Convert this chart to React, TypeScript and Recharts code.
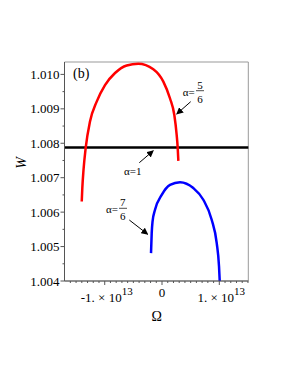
import React from 'react'
import { LineChart, Line, XAxis, YAxis, ReferenceArea } from 'recharts'

// Ω is kept in units of 1e13
const xDomain = [-1.702, 1.506]
const yDomain = [1.004, 1.01036]

const redOmega = [-1.401, -1.391, -1.37, -1.332, -1.257, -1.14, -0.995, -0.82, -0.616, -0.414, -0.152, 0.023, 0.14, 0.215, 0.256, 0.274, 0.285]
const redW = [1.00631, 1.0067, 1.00723, 1.00787, 1.00863, 1.00921, 1.00969, 1.01004, 1.01026, 1.01031, 1.01015, 1.00979, 1.0093, 1.00882, 1.00824, 1.00786, 1.00749]

const blueOmega = [-0.192, -0.18, -0.166, -0.122, -0.005, 0.14, 0.314, 0.546, 0.721, 0.867, 0.955, 0.995, 1.007]
const blueW = [1.00481, 1.00539, 1.00572, 1.00607, 1.0065, 1.00679, 1.00687, 1.0067, 1.00636, 1.00578, 1.0051, 1.00442, 1.004]

const blackOmega = [-1.702, 1.506]
const blackW = [1.00788, 1.00788]

const xTicks = [-1.6, -1.5, -1.4, -1.3, -1.2, -1.1, -1, -0.9, -0.8, -0.7, -0.6, -0.5, -0.4, -0.3, -0.2, -0.1, 0,
  0.1, 0.2, 0.3, 0.4, 0.5, 0.6, 0.7, 0.8, 0.9, 1, 1.1, 1.2, 1.3, 1.4, 1.5]
const yTicks = [1.004, 1.0045, 1.005, 1.0055, 1.006, 1.0065, 1.007, 1.0075, 1.008, 1.0085, 1.009, 1.0095, 1.01]

const zip = (xs: number[], ys: number[]) => xs.map((omega, i) => ({ omega, w: ys[i] }))
const red = zip(redOmega, redW)
const blue = zip(blueOmega, blueW)
const black = zip(blackOmega, blackW)

const serif = 'Liberation Serif, DejaVu Serif, serif'
const axisColor = '#555'
const txt = { fontFamily: serif }

function XTick(props: any) {
  const { x, y, payload } = props
  const v = payload.value as number
  const major = Math.abs(v - Math.round(v)) < 1e-6
  return (
    <g>
      <line x1={x} x2={x} y1={y} y2={y + (major ? 4 : 2)} stroke={axisColor} />
      {major && v === 0 && (
        <text x={x} y={y + 16} textAnchor="middle" style={txt} fontSize={13} fill="#000">0</text>
      )}
      {major && v !== 0 && (
        <text x={x + 2} y={y + 21} textAnchor="middle" style={txt} fontSize={13} fill="#000">
          {v < 0 ? '-1. × 10' : '1. × 10'}
          <tspan dy={-7} fontSize={11}>13</tspan>
        </text>
      )}
    </g>
  )
}

function YTick(props: any) {
  const { x, y, payload } = props
  const v = payload.value as number
  const major = Math.abs(v * 1000 - Math.round(v * 1000)) < 1e-6
  return (
    <g>
      <line x1={x} x2={x - (major ? 4 : 2)} y1={y} y2={y} stroke={axisColor} />
      {major && (
        <text x={x - 5} y={y} dy="0.35em" textAnchor="end" style={txt} fontSize={13} fill="#000">
          {v.toFixed(3)}
        </text>
      )}
    </g>
  )
}

function Annotations() {
  const t = { style: txt, fontSize: 11, fill: '#000' }
  return (
    <svg width={290} height={377} style={{ position: 'absolute', left: 0, top: 0, pointerEvents: 'none' }}>
      <defs>
        <marker id="ah" viewBox="0 0 10 10" refX="9" refY="5" markerWidth="7" markerHeight="7" orient="auto">
          <path d="M0,0 L10,5 L0,10 z" fill="#000" />
        </marker>
      </defs>
      <text x={65} y={65.3} dy="0.35em" style={txt} fontSize={14}>(b)</text>

      <text x={174.7} y={84.3} dy="0.35em" {...t}>α=</text>
      <text x={192} y={77} dy="0.35em" textAnchor="middle" {...t}>5</text>
      <line x1={188} x2={196} y1={82.7} y2={82.7} stroke="#000" strokeWidth={0.7} />
      <text x={192} y={91.3} dy="0.35em" textAnchor="middle" {...t}>6</text>
      <line x1={182.7} y1={93.7} x2={168.7} y2={106} stroke="#000" strokeWidth={1} markerEnd="url(#ah)" />

      <text x={116} y={162.7} dy="0.35em" {...t}>α=1</text>
      <line x1={131.3} y1={154.7} x2={145.3} y2={142.7} stroke="#000" strokeWidth={1} markerEnd="url(#ah)" />

      <text x={98} y={201} dy="0.35em" {...t}>α=</text>
      <text x={114.7} y={193.7} dy="0.35em" textAnchor="middle" {...t}>7</text>
      <line x1={111} x2={119} y1={200.3} y2={200.3} stroke="#000" strokeWidth={0.7} />
      <text x={114.7} y={208} dy="0.35em" textAnchor="middle" {...t}>6</text>
      <line x1={121.3} y1={212} x2={139.7} y2={226.3} stroke="#000" strokeWidth={1} markerEnd="url(#ah)" />

      <text x={148.7} y={308} dy="0.35em" textAnchor="middle" style={txt} fontSize={14}>Ω</text>
      <text x={13} y={155} dy="0.35em" textAnchor="middle" style={txt} fontSize={14} fontStyle="italic"
        transform="rotate(-90 13 155)">W</text>
    </svg>
  )
}

export default function App() {
  return (
    <div style={{ position: 'relative', width: 290, height: 377 }}>
      <LineChart width={290} height={377} margin={{ top: 54, right: 49.7, left: 0, bottom: 64 }}>
        <XAxis type="number" dataKey="omega" domain={xDomain} ticks={xTicks}
          height={40} tick={<XTick />} tickLine={false} tickSize={0} tickMargin={0}
          axisLine={{ stroke: axisColor }} interval={0} />
        <YAxis type="number" dataKey="w" domain={yDomain} ticks={yTicks}
          width={56.5} tick={<YTick />} tickLine={false} tickSize={0} tickMargin={0}
          axisLine={{ stroke: axisColor }} interval={0} />
        <ReferenceArea x1={xDomain[0]} x2={xDomain[1]} y1={yDomain[0]} y2={yDomain[1]}
          fill="none" stroke="#999" strokeWidth={1} />
        <Line data={black} dataKey="w" stroke="#000" strokeWidth={2.5} dot={false} isAnimationActive={false} />
        <Line data={red} dataKey="w" type="monotone" stroke="#ff0000" strokeWidth={2.5} dot={false} isAnimationActive={false} />
        <Line data={blue} dataKey="w" type="monotone" stroke="#0000ff" strokeWidth={2.5} dot={false} isAnimationActive={false} />
      </LineChart>
      <Annotations />
    </div>
  )
}
